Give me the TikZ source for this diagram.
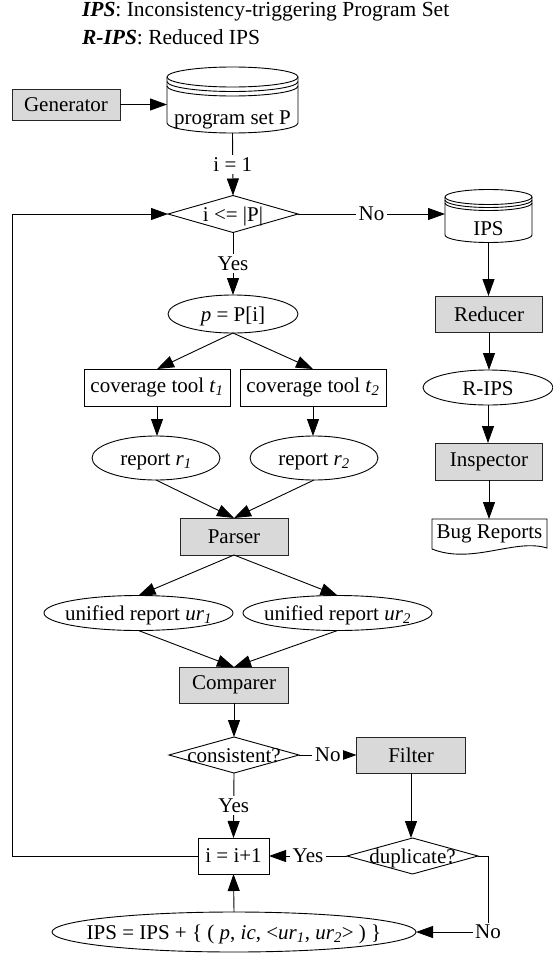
\documentclass[tikz,border=0pt]{standalone}
\usepackage{fontspec}
\setmainfont{Liberation Serif}
\usetikzlibrary{shapes.geometric,arrows.meta,calc}
\definecolor{boxgray}{RGB}{217,217,217}
\newcommand\ctext[1]{\raisebox{-0.36em}[0pt][0pt]{\makebox[0pt]{#1}}}
\newcommand\drawcyl[4]{%
  \draw ($(#1.north west)+(0,#3)$) arc[start angle=180,end angle=540,x radius=#2pt,y radius=#3pt];
  \draw ($(#1.north west)+(0,#3)$) -- ($(#1.south west)+(0,-#3)$)
     arc[start angle=180,end angle=360,x radius=#2pt,y radius=#3pt] -- ($(#1.north east)+(0,#3)$);
  \draw ($(#1.north west)+(0,#3+#4)$) arc[start angle=180,end angle=360,x radius=#2pt,y radius=#3pt];
  \draw ($(#1.north west)+(0,#3+2*#4)$) arc[start angle=180,end angle=360,x radius=#2pt,y radius=#3pt];
}
\begin{document}
\begin{tikzpicture}[x=1pt,y=-1pt,
  font=\fontsize{21}{25}\selectfont,
  every node/.style={inner sep=0pt, outer sep=0pt},
  line width=0.9pt,
  arr/.style={-{Triangle[length=17pt,width=12pt]}},
  plainbox/.style={draw, rectangle, minimum height=37pt},
  graybox/.style={draw=black!85, fill=boxgray, rectangle, minimum width=108pt, minimum height=36pt},
  ell/.style={draw, ellipse},
  dia/.style={draw, diamond, minimum width=130pt, minimum height=37pt},
  lab/.style={fill=white, inner sep=2.5pt},
  cylarea/.style={rectangle, draw=none},
  legend/.style={anchor=west, font=\fontsize{21.5}{25}\selectfont},
]
\path[fill=white] (0,0) rectangle (553,953);
\useasboundingbox (0,0) rectangle (553,953);

% legend
\node[legend] (ttl1) at (82,12) {\textbf{\textit{IPS}}: Inconsistency-triggering Program Set};
\node[legend] (ttl2) at (82,37) {\textbf{\textit{R-IPS}}: Reduced IPS};

% nodes
\node[graybox, minimum height=31pt] (gen) at (66,104.5) {Generator};
\node[cylarea, minimum width=131pt, minimum height=66pt] (P) at (232.5,100) {};
\drawcyl{P}{65.5}{10}{4.5}
\node (Ptxt) at (232.5,120) {program set P};

\node[dia] (D1) at (233,214) {\ctext{i <= |P|}};

\node[cylarea, minimum width=87pt, minimum height=53pt] (ips) at (488.5,216) {};
\drawcyl{ips}{43.5}{7.5}{3}
\node (ipstxt) at (488.5,229) {IPS};

\node[ell, minimum width=130pt, minimum height=38pt] (pP) at (233,314) {\ctext{\textit{p} = P[i]}};
\node[graybox, minimum width=107pt] (red) at (489,314) {Reducer};

\node[plainbox, minimum width=146pt] (t1) at (157,387.5) {coverage tool \textit{t}\textsubscript{\textit{1}}};
\node[plainbox, minimum width=146pt] (t2) at (313,387.5) {coverage tool \textit{t}\textsubscript{\textit{2}}};
\node[ell, minimum width=130pt, minimum height=35pt] (rips) at (488,387.5) {\ctext{R-IPS}};

\node[ell, minimum width=128pt, minimum height=44pt] (r1) at (156,458) {\ctext{report \textit{r}\textsubscript{\textit{1}}}};
\node[ell, minimum width=128pt, minimum height=44pt] (r2) at (314,458) {\ctext{report \textit{r}\textsubscript{\textit{2}}}};
\node[graybox, minimum width=107pt, minimum height=37pt] (insp) at (489,461.5) {Inspector};

\node[graybox, minimum height=37pt] (parser) at (234,536.5) {Parser};
\node[cylarea, minimum width=115pt, minimum height=29pt] (br) at (489.5,533.5) {Bug Reports};
\draw (br.south west) -- (br.north west) -- (br.north east) -- (br.south east)
   .. controls ($(br.south east)+(-32,-10)$) and ($(br.south west)+(40,17)$) .. ($(br.south west)+(0,1)$) -- cycle;

\node[ell, minimum width=189pt, minimum height=35pt] (ur1) at (138.5,613) {\ctext{unified report \textit{ur}\textsubscript{\textit{1}}}};
\node[ell, minimum width=189pt, minimum height=35pt] (ur2) at (337.5,613) {\ctext{unified report \textit{ur}\textsubscript{\textit{2}}}};

\node[graybox, minimum width=109pt] (comp) at (234,685) {Comparer};
\node[dia, minimum height=36pt] (cons) at (234,755) {\ctext{consistent?}};
\node[graybox, minimum width=109pt] (filt) at (411,755) {Filter};

\node[plainbox, minimum width=71pt, minimum height=36pt] (inc) at (233.5,856) {i = i+1};
\node[dia, minimum width=131pt, minimum height=36pt] (dup) at (412.5,856) {\ctext{duplicate?}};

\node[ell, minimum width=364pt, minimum height=40pt] (bot) at (234,932) {\ctext{IPS = IPS + \{ ( \textit{p}, \textit{ic}, <\textit{ur}\textsubscript{\textit{1}}, \textit{ur}\textsubscript{\textit{2}}> ) \}}};

% connectors
\draw[arr] (gen.east) -- (gen.east -| P.west);
\draw[arr] (P.south) -- node[lab]{i = 1} (D1.north);
\draw[arr] (D1.east) -- node[lab]{No} (D1.east -| ips.west);
\draw[arr] (D1.south) -- node[lab]{Yes} (pP.north);
\draw[arr] (ips.south) -- (ips.south |- red.north);
\draw[arr] (red.south) -- (red.south |- rips.north);
\draw[arr] (rips.south) -- (rips.south |- insp.north);
\draw[arr] (insp.south) -- (insp.south |- br.north);
\draw[arr] (pP.south) -- (t1.north);
\draw[arr] (pP.south) -- (t2.north);
\draw[arr] (t1.south) -- (t1.south |- r1.north);
\draw[arr] (t2.south) -- (t2.south |- r2.north);
\draw[arr] (r1.south) -- (parser.north);
\draw[arr] (r2.south) -- (parser.north);
\draw[arr] (parser.south) -- (ur1.north);
\draw[arr] (parser.south) -- (ur2.north);
\draw[arr] (ur1.south) -- (comp.north);
\draw[arr] (ur2.south) -- (comp.north);
\draw[arr] (comp.south) -- (cons.north);
\draw[arr] (cons.east) -- node[lab]{No} (filt.west);
\draw[arr] (cons.south) -- node[lab]{Yes} (inc.north);
\draw[arr] (filt.south) -- (filt.south |- dup.north);
\draw[arr] (dup.west) -- node[lab]{Yes} (inc.east);
\draw[arr] (dup.east) -- ++(10,0) |- node[lab,pos=0.5]{No} (bot.east);
\draw[arr] (bot.north) -- (inc.south);
\draw[arr] (inc.west) -- ++(-186,0) |- (D1.west);
\end{tikzpicture}
\end{document}
